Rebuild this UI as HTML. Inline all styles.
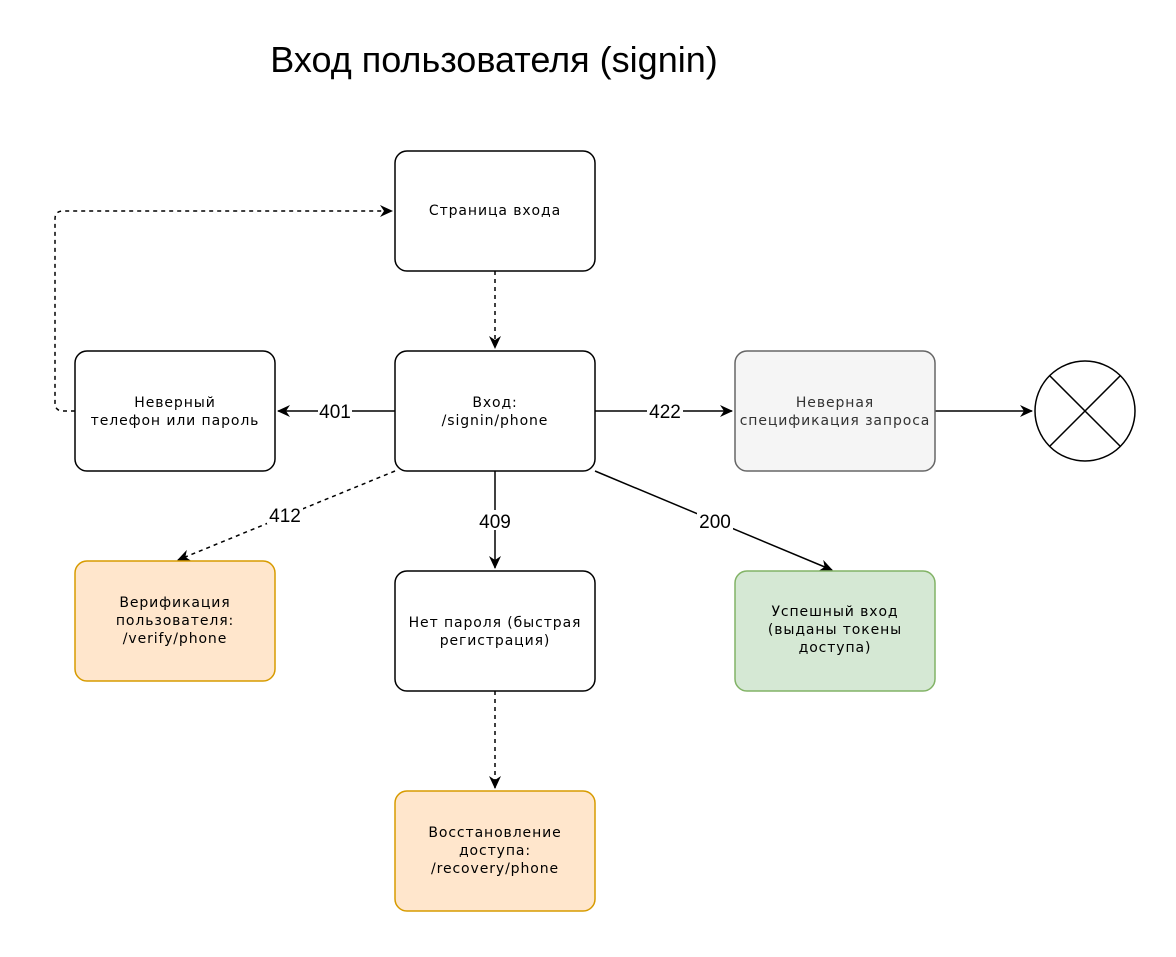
<!DOCTYPE html>
<html><head><meta charset="utf-8"><style>
html,body{margin:0;padding:0;background:#fff;}
svg text{font-family:"DejaVu Sans","Liberation Sans",sans-serif;}
svg text.l{font-family:"Liberation Sans","DejaVu Sans",sans-serif;letter-spacing:0;}
</style></head><body>
<svg width="1176" height="952" viewBox="0 0 1176 952" xmlns="http://www.w3.org/2000/svg">
<defs>
<marker id="a" markerWidth="14" markerHeight="14" refX="12" refY="7" orient="auto" markerUnits="userSpaceOnUse">
<path d="M0,1 L13,7 L0,13 L4,7 Z" fill="#000"/>
</marker>
</defs>
<text class="l" x="494" y="72" font-size="36" text-anchor="middle">Вход пользователя (signin)</text>

<g fill="none" stroke="#000" stroke-width="1.5">
<path d="M495 271 L495 348" stroke-dasharray="4 4" marker-end="url(#a)"/>
<path d="M75 411 L63 411 Q55 411 55 403 L55 219 Q55 211 63 211 L392 211" stroke-dasharray="4 4" marker-end="url(#a)"/>
<path d="M395 411 L278 411" marker-end="url(#a)"/>
<path d="M595 411 L732 411" marker-end="url(#a)"/>
<path d="M935 411 L1032 411" marker-end="url(#a)"/>
<path d="M495 471 L495 568" marker-end="url(#a)"/>
<path d="M395 471 L178 560" stroke-dasharray="4 4" marker-end="url(#a)"/>
<path d="M595 471 L832 570" marker-end="url(#a)"/>
<path d="M495 691 L495 788" stroke-dasharray="4 4" marker-end="url(#a)"/>
</g>

<g font-size="19" text-anchor="middle">
<rect x="318" y="400" width="34" height="20" fill="#fff"/><text class="l" x="335" y="418">401</text>
<rect x="647" y="400" width="36" height="20" fill="#fff"/><text class="l" x="665" y="418">422</text>
<rect x="477" y="510" width="36" height="20" fill="#fff"/><text class="l" x="495" y="528">409</text>
<rect x="267" y="504" width="36" height="20" fill="#fff"/><text class="l" x="285" y="522">412</text>
<rect x="697" y="510" width="36" height="20" fill="#fff"/><text class="l" x="715" y="528">200</text>
</g>

<g stroke-width="1.5">
<rect x="395" y="151" width="200" height="120" rx="12" fill="#fff" stroke="#000"/>
<rect x="395" y="351" width="200" height="120" rx="12" fill="#fff" stroke="#000"/>
<rect x="75" y="351" width="200" height="120" rx="12" fill="#fff" stroke="#000"/>
<rect x="735" y="351" width="200" height="120" rx="12" fill="#f5f5f5" stroke="#666"/>
<rect x="75" y="561" width="200" height="120" rx="12" fill="#ffe6cc" stroke="#d79b00"/>
<rect x="395" y="571" width="200" height="120" rx="12" fill="#fff" stroke="#000"/>
<rect x="735" y="571" width="200" height="120" rx="12" fill="#d5e8d4" stroke="#82b366"/>
<rect x="395" y="791" width="200" height="120" rx="12" fill="#ffe6cc" stroke="#d79b00"/>
<circle cx="1085" cy="411" r="50" fill="#fff" stroke="#000"/>
<path d="M1050 376 L1120 446 M1120 376 L1050 446" stroke="#000"/>
</g>

<g font-size="14" text-anchor="middle" letter-spacing="0.9">
<text x="495" y="215">Страница входа</text>
<text x="495" y="407">Вход:</text>
<text x="495" y="425">/signin/phone</text>
<text x="175" y="407">Неверный</text>
<text x="175" y="425">телефон или пароль</text>
<text x="835" y="407" fill="#333">Неверная</text>
<text x="835" y="425" fill="#333">спецификация запроса</text>
<text x="175" y="607">Верификация</text>
<text x="175" y="625">пользователя:</text>
<text x="175" y="643">/verify/phone</text>
<text x="495" y="627">Нет пароля (быстрая</text>
<text x="495" y="645">регистрация)</text>
<text x="835" y="616">Успешный вход</text>
<text x="835" y="634">(выданы токены</text>
<text x="835" y="652">доступа)</text>
<text x="495" y="837">Восстановление</text>
<text x="495" y="855">доступа:</text>
<text x="495" y="873">/recovery/phone</text>
</g>
</svg>
</body></html>
